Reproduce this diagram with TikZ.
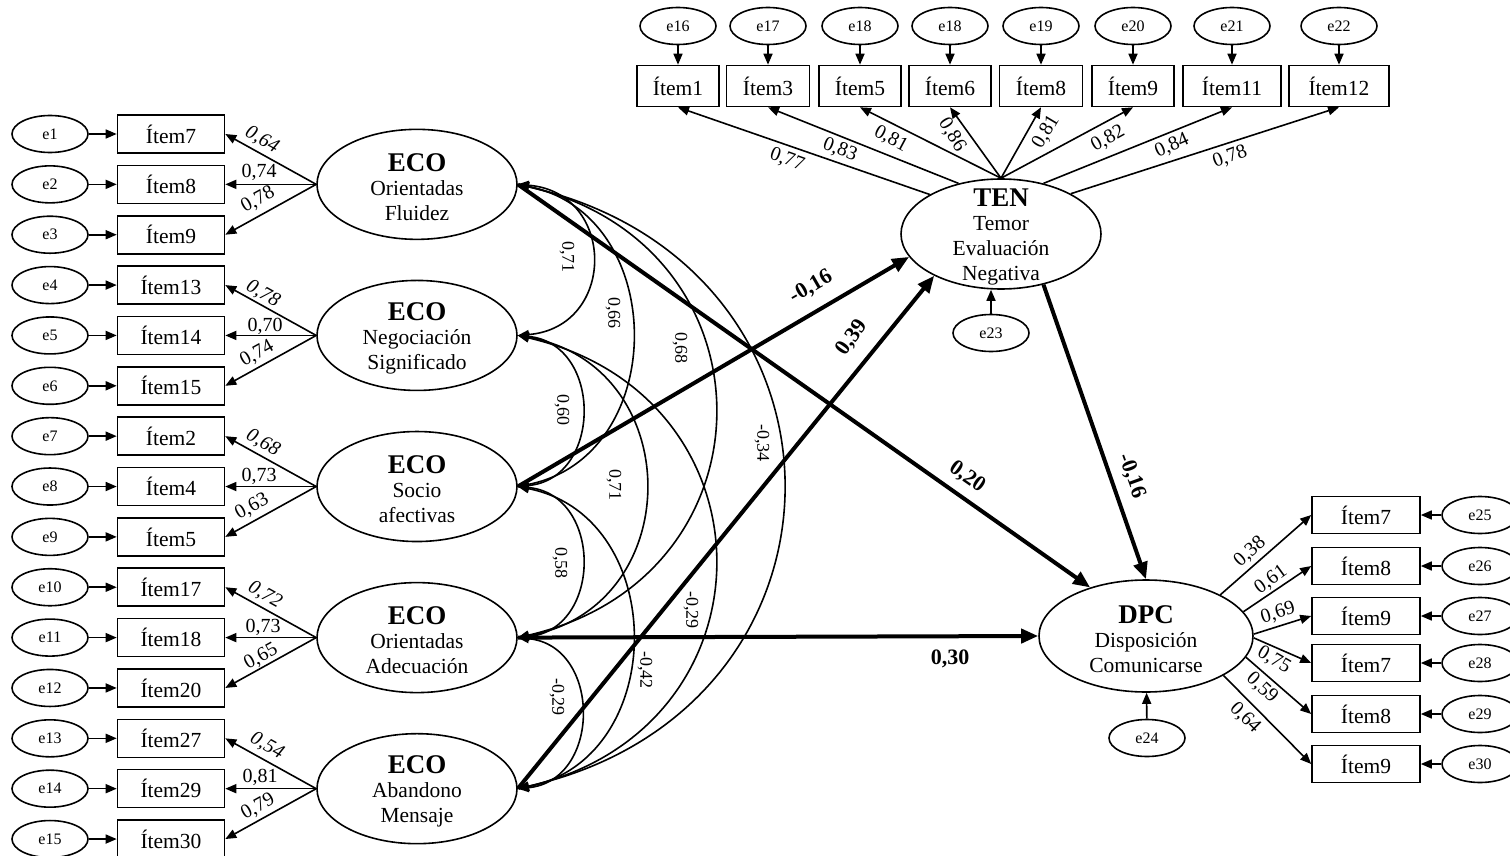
\documentclass[tikz,border=0pt]{standalone}
\usepackage{fontspec}
\setmainfont{Liberation Serif}
\usetikzlibrary{arrows.meta,shapes.geometric,calc}
\begin{document}
\begin{tikzpicture}[x=1pt,y=-1pt,
  obs/.style={draw,rectangle,line width=1.6pt,minimum width=107pt,minimum height=38pt,inner sep=0pt,font=\fontsize{21.5}{24}\selectfont},
  err/.style={draw,ellipse,line width=1.6pt,minimum width=76pt,minimum height=37pt,inner sep=0pt,font=\fontsize{16}{18}\selectfont},
  lat/.style={draw,ellipse,line width=1.6pt,minimum width=200pt,minimum height=110pt,inner sep=0pt},
  lattxt/.style={align=center,inner sep=0pt,font=\fontsize{21.5}{25}\selectfont},
  arr/.style={line width=1.6pt,-{Triangle[length=11pt,width=9pt]}},
  darr/.style={line width=1.6pt,{Triangle[length=11pt,width=9pt]}-{Triangle[length=11pt,width=9pt]}},
  big/.style={line width=4pt,-{Triangle[length=17pt,width=14pt]}},
  ld/.style={inner sep=0pt,font=\fontsize{20}{22}\selectfont},
  ldi/.style={inner sep=0pt,font=\fontsize{20}{22}\selectfont\itshape},
  cl/.style={inner sep=0pt,rotate=-90,font=\fontsize{18}{20}\selectfont},
  sl/.style={inner sep=0pt,font=\fontsize{22}{24}\selectfont\bfseries}
]
\useasboundingbox (0,0) rectangle (1510,856);

% ---------- left block ----------
\foreach \i/\t in {1/7,2/8,3/9,4/13,5/14,6/15,7/2,8/4,9/5,10/17,11/18,12/20,13/27,14/29,15/30}{
  \node[err] (le\i) at (50,{134+50.36*(\i-1)}) {e\i};
  \node[obs] (li\i) at (171,{134+50.36*(\i-1)}) {Ítem\t};
  \draw[arr] (le\i) -- (li\i);
}
\foreach \g/\a/\b in {1/Orientadas/Fluidez,2/Negociación/Significado,3/Socio/afectivas,4/Orientadas/Adecuación,5/Abandono/Mensaje}{
  \pgfmathsetmacro{\yy}{134+50.36*(3*\g-2)}
  \pgfmathtruncatemacro{\ia}{3*\g-2}
  \pgfmathtruncatemacro{\ib}{3*\g-1}
  \pgfmathtruncatemacro{\ic}{3*\g}
  \node[lat] (eco\g) at (417,\yy) {};
  \node[lattxt] (ecot\g) at (417,{\yy+3}) {{\fontsize{27}{25}\selectfont\bfseries ECO}\\[-1pt]\a\\\b};
  \draw[arr] (eco\g.west) -- (li\ia.east);
  \draw[arr] (eco\g.west) -- (li\ib.east);
  \draw[arr] (eco\g.west) -- (li\ic.east);
}
% loading labels left
\foreach \n/\x/\y/\r/\s/\v in {
  a1/262/140/-29/ldi/{0,64}, a2/259/172/0/ld/{0,74}, a3/258/200/29/ld/{0,78},
  a4/263/294/-29/ldi/{0,78}, a5/265/326/0/ld/{0,70}, a6/257/354/29/ld/{0,74},
  a7/263/443/-29/ldi/{0,68}, a8/259/476/0/ld/{0,73}, a9/252/507/29/ld/{0,63},
  a10/265/595/-29/ldi/{0,72}, a11/263/627/0/ld/{0,73}, a12/261/657/29/ld/{0,65},
  a13/267/746/-29/ldi/{0,54}, a14/260/777/0/ld/{0,81}, a15/258/807/29/ld/{0,79}}{
  \node[\s,rotate=\r] (\n) at (\x,\y) {\v};
}

% ---------- correlations ----------
\draw[darr] (eco1.east) .. controls +(99,8) and +(99,-8) .. (eco2.east);
\draw[darr] (eco2.east) .. controls +(85,8) and +(85,-8) .. (eco3.east);
\draw[darr] (eco3.east) .. controls +(85,8) and +(85,-8) .. (eco4.east);
\draw[darr] (eco4.east) .. controls +(84,8) and +(84,-8) .. (eco5.east);
\draw[darr] (eco1.east) .. controls +(152,30) and +(152,-30) .. (eco3.east);
\draw[darr] (eco2.east) .. controls +(170,30) and +(170,-30) .. (eco4.east);
\draw[darr] (eco3.east) .. controls +(152,30) and +(152,-30) .. (eco5.east);
\draw[darr] (eco1.east) .. controls +(262,60) and +(262,-60) .. (eco4.east);
\draw[darr] (eco2.east) .. controls +(262,60) and +(262,-60) .. (eco5.east);
\draw[darr] (eco1.east) .. controls +(353,80) and +(353,-80) .. (eco5.east);
\node[cl] (c12) at (567,257) {0,71};
\node[cl] (c23) at (562,410) {0,60};
\node[cl] (c34) at (560,563) {0,58};
\node[cl] (c45) at (557,697) {-0,29};
\node[cl] (c13) at (613,313) {0,66};
\node[cl] (c24) at (614,485) {0,71};
\node[cl] (c35) at (645,670) {-0,42};
\node[cl] (c14) at (680,348) {0,68};
\node[cl] (c25) at (691,610) {-0,29};
\node[cl] (c15) at (762,443) {-0,34};

% ---------- TEN ----------
\node[lat] (ten) at (1001,234) {};
\node[lattxt] (tent) at (1001,237) {{\fontsize{27}{25}\selectfont\bfseries TEN}\\[-1pt]Temor\\Evaluación\\Negativa};
\foreach \i/\x/\w/\e/\t/\a in {1/678/82/16/1/151, 2/768/83/17/3/130, 3/860/82/18/5/90, 4/950/82/18/6/90,
  5/1041/83/19/8/90, 6/1133/82/20/9/90, 7/1232/98/21/11/50, 8/1339/100/22/12/30}{
  \node[err] (te\i) at (\x,26) {e\e};
  \node[obs,minimum width=\w pt,minimum height=41pt] (ti\i) at (\x,86) {Ítem\t};
  \draw[arr] (te\i) -- (ti\i);
  \draw[arr] (ten.\a) -- (ti\i.south);
}
\foreach \n/\x/\y/\r/\v in {b1/787/160/-20/{0,77}, b2/840/150/-21/{0,83}, b3/891/139/-28/{0,81}, b4/952/135/-58/{0,86},
  b5/1046/132/59/{0,81}, b6/1108/139/29/{0,82}, b7/1172/146/24/{0,84}, b8/1230/157/20/{0,78}}{
  \node[ld,rotate=\r] (\n) at (\x,\y) {\v};
}
\node[err] (e23) at (991,333) {e23};
\draw[arr] (e23) -- (ten.south -| e23);

% ---------- DPC ----------
\node[lat,minimum width=214pt,minimum height=112pt] (dpc) at (1146,636) {};
\node[lattxt] (dpct) at (1146,639) {{\fontsize{27}{25}\selectfont\bfseries DPC}\\[-1pt]Disposición\\Comunicarse};
\node[err] (e24) at (1147,738) {e24};
\draw[arr] (e24) -- (dpc);
\foreach \i/\y/\t/\a in {1/515/7/29, 2/566/8/14, 3/616/9/1, 4/663/7/-1, 5/714/8/-12, 6/764/9/-27}{
  \pgfmathtruncatemacro{\ee}{24+\i}
  \node[obs,minimum width=108pt,minimum height=37pt] (ri\i) at (1366,\y) {Ítem\t};
  \node[err] (re\i) at (1480,\y) {e\ee};
  \draw[arr] (re\i) -- (ri\i);
  \draw[arr] (dpc.\a) -- (ri\i.west);
}
\foreach \n/\x/\y/\r/\v in {d1/1250/552/42/{0,38}, d2/1271/580/36/{0,61}, d3/1278/613/17/{0,69},
  d4/1274/660/-30/{0,75}, d5/1262/688/-43/{0,59}, d6/1245/718/-45/{0,64}}{
  \node[ld,rotate=\r] (\n) at (\x,\y) {\v};
}

% ---------- structural paths ----------
\draw[big] (eco1.east) -- (dpc.139);
\draw[big] (eco3.east) -- (ten.194);
\draw[big] (eco5.east) -- (ten.212);
\draw[big] (eco4.east) -- (dpc.west);
\draw[big] (ten.-50) -- (dpc.north);
\node[sl,rotate=-35] (s1) at (967,477) {0,20};
\node[sl,rotate=30] (s2) at (811,287) {-0,16};
\node[sl,rotate=55] (s3) at (852,338) {0,39};
\node[sl] (s4) at (950,659) {0,30};
\node[sl,rotate=-70] (s5) at (1132,476) {-0,16};
\end{tikzpicture}
\end{document}
